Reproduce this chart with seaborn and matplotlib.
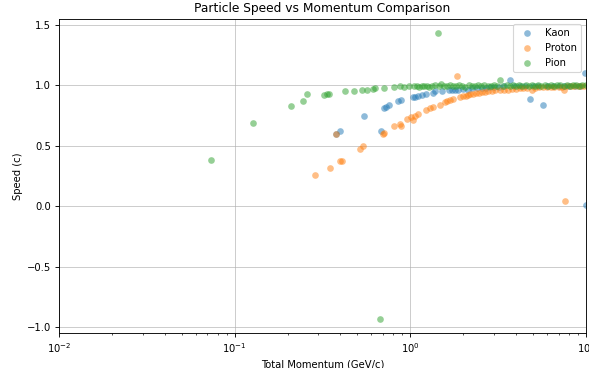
import matplotlib
matplotlib.use("Agg")
import matplotlib.pyplot as plt
import seaborn as sns
import pandas as pd

kaon_p = [0.377, 0.40, 0.548, 0.679, 0.71, 0.73, 0.76, 0.855, 0.88, 1.03, 1.07, 1.10,
          1.17, 1.22, 1.35, 1.39, 1.52, 1.66, 1.73, 1.80, 1.88, 2.0, 2.12, 2.25, 2.4,
          2.55, 2.7, 2.85, 3.0, 3.2, 3.4, 3.70, 3.9, 4.2, 4.5, 4.81, 5.0, 5.3, 5.68,
          6.0, 6.5, 7.0, 7.5, 8.0, 8.7, 9.3, 9.9, 9.95]
kaon_v = [0.60, 0.62, 0.75, 0.62, 0.815, 0.82, 0.84, 0.87, 0.875, 0.90, 0.905, 0.91,
          0.92, 0.93, 0.94, 0.95, 0.95, 0.96, 0.96, 0.965, 0.965, 0.97, 0.96, 0.975, 0.975,
          0.98, 0.98, 0.985, 0.985, 0.985, 0.99, 1.04, 0.99, 0.99, 0.99, 0.89, 0.99, 0.995, 0.84,
          0.995, 0.995, 0.995, 0.995, 0.995, 0.995, 0.995, 1.10, 0.01]

proton_p = [0.287, 0.349, 0.40, 0.41, 0.518, 0.54, 0.377, 0.697, 0.71, 0.81, 0.87, 0.89,
            0.96, 1.01, 1.04, 1.06, 1.11, 1.23, 1.29, 1.34, 1.47, 1.57, 1.62, 1.68, 1.74,
            1.84, 1.93, 2.0, 2.07, 2.13, 2.18, 2.28, 2.38, 2.46, 2.55, 2.65, 2.75, 2.9, 3.04,
            3.24, 3.4, 3.6, 3.8, 4.0, 4.2, 4.4, 4.6, 4.9, 5.1, 5.4, 5.7, 6.0, 6.3, 6.6,
            7.0, 7.3, 7.5, 7.55, 7.8, 8.2, 8.6, 9.0, 9.4, 9.8]
proton_v = [0.26, 0.32, 0.37, 0.37, 0.475, 0.495, 0.60, 0.595, 0.605, 0.66, 0.68, 0.665,
            0.72, 0.735, 0.71, 0.745, 0.76, 0.795, 0.815, 0.82, 0.84, 0.86, 0.87, 0.875, 0.885,
            1.075, 0.90, 0.91, 0.915, 0.92, 0.925, 0.93, 0.935, 0.94, 0.945, 0.945, 0.95, 0.95, 0.96,
            0.96, 0.96, 0.965, 0.97, 0.97, 0.975, 0.975, 0.978, 0.957, 0.98, 0.982, 0.984, 0.985, 0.986, 0.987,
            0.988, 0.989, 0.965, 0.04, 0.99, 0.99, 0.991, 0.992, 0.993, 0.993]

pion_p = [0.073, 0.127, 0.210, 0.244, 0.259, 0.321, 0.335, 0.345, 0.427, 0.479, 0.529, 0.565,
          0.61, 0.63, 0.67, 0.71, 0.81, 0.87, 0.92, 0.98, 1.05, 1.09, 1.12, 1.16, 1.20, 1.24,
          1.28, 1.33, 1.38, 1.44, 1.46, 1.50, 1.56, 1.62, 1.68, 1.75, 1.82, 1.90, 1.98, 2.06,
          2.15, 2.24, 2.33, 2.43, 2.53, 2.64, 2.75, 2.87, 2.99, 3.12, 3.25, 3.39, 3.53, 3.68,
          3.84, 4.0, 4.17, 4.35, 4.53, 4.72, 4.92, 5.13, 5.35, 5.57, 5.81, 6.05, 6.31, 6.58,
          6.85, 7.14, 7.45, 7.76, 8.09, 8.43, 8.79, 9.16, 9.55, 9.95]
pion_v = [0.38, 0.69, 0.83, 0.87, 0.93, 0.92, 0.93, 0.93, 0.95, 0.95, 0.965, 0.965,
          0.97, 0.975, -0.93, 0.98, 0.985, 0.99, 0.985, 0.99, 0.99, 0.995, 0.985, 0.99, 0.995, 0.99,
          0.985, 0.995, 1.0, 1.43, 0.99, 1.01, 0.995, 0.99, 1.0, 0.995, 0.99, 1.0, 0.995, 0.985,
          1.0, 0.995, 0.99, 1.005, 0.995, 1.0, 0.99, 0.995, 1.0, 0.995, 1.04, 0.995, 1.0, 0.99,
          1.0, 0.995, 1.0, 0.995, 1.005, 0.99, 1.0, 0.995, 1.0, 0.995, 1.0, 0.99, 1.0, 0.995,
          1.0, 1.005, 0.995, 1.0, 0.995, 1.0, 1.0, 0.995, 1.0, 1.0]

series = [("Kaon", kaon_p, kaon_v, "C0"),
          ("Proton", proton_p, proton_v, "C1"),
          ("Pion", pion_p, pion_v, "C2")]

plt.rcParams["font.size"] = 9
plt.rcParams["axes.titlesize"] = 11

fig, ax = plt.subplots(figsize=(589 / 80, 368 / 80), dpi=80)
for name, p, v, c in series:
    df = pd.DataFrame({"p": p, "v": v})
    sns.scatterplot(data=df, x="p", y="v", ax=ax, color=c, alpha=0.5,
                    linewidth=0, s=36, label=name)

ax.set_xscale("log")
ax.set_xlim(1e-2, 1e1)
ax.grid(True, which="major", alpha=0.7)
ax.set_axisbelow(True)
ax.set_title("Particle Speed vs Momentum Comparison")
ax.set_xlabel("Total Momentum (GeV/c)")
ax.set_ylabel("Speed (c)")
ax.legend(loc="upper right")
fig.subplots_adjust(left=59 / 589, right=586 / 589, top=1 - 19 / 368, bottom=1 - 333 / 368)
fig.savefig("out.png", dpi=80)
